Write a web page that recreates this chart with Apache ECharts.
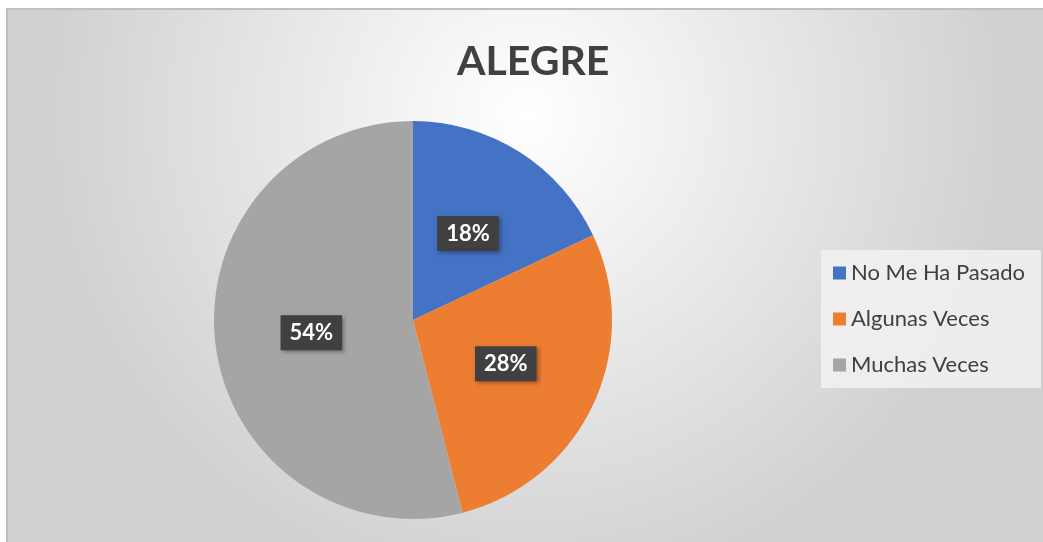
<!DOCTYPE html>
<html>
<head>
<meta charset="utf-8">
<script src="https://cdn.jsdelivr.net/npm/echarts@6/dist/echarts.min.js"></script>
<style>
  html, body { margin: 0; padding: 0; background: #fff; }
  #chart { width: 1043px; height: 542px; }
</style>
</head>
<body>
<div id="chart"></div>
<script>
const categories = ['No Me Ha Pasado', 'Algunas Veces', 'Muchas Veces'];
const values = [18, 28, 54];
const colors = ['#4472C4', '#ED7D31', '#A5A5A5'];

const myChart = echarts.init(document.getElementById('chart'));

let pieData = values.map((value, index) => ({
  value: value,
  name: categories[index],
  itemStyle: { color: colors[index] }
}));

const option = {
  backgroundColor: '#fff',
  animation: false,
  graphic: [
    {
      type: 'rect',
      z: -10,
      shape: { x: 7, y: 9, width: 1040, height: 540 },
      style: {
        fill: {
          type: 'radial', x: 0.5, y: 0.2, r: 0.9,
          colorStops: [
            { offset: 0, color: '#ffffff' },
            { offset: 1, color: '#d0d0d0' }
          ]
        },
        stroke: '#bfbfbf',
        lineWidth: 2
      }
    }
  ],
  title: {
    text: 'ALEGRE',
    left: 452,
    top: 36,
    textStyle: {
      fontFamily: 'Lato',
      fontWeight: 'bold',
      fontSize: 41,
      color: '#404040'
    }
  },
  legend: {
    orient: 'vertical',
    left: 821,
    top: 250,
    padding: [12, 16, 12, 12],
    itemGap: 24,
    itemWidth: 13,
    itemHeight: 13,
    icon: 'rect',
    backgroundColor: 'rgba(242,242,242,0.85)',
    textStyle: {
      fontFamily: 'Lato',
      fontSize: 22,
      color: '#404040',
      padding: [0, 0, 0, 0]
    },
    data: categories
  },
  series: [
    {
      type: 'pie',
      center: [413, 320],
      radius: ['0%', 199],
      startAngle: 90,
      clockwise: true,
      data: pieData,
      label: {
        show: true,
        position: 'inside',
        formatter: '{d}%',
        fontFamily: 'Lato',
        fontWeight: 'bold',
        fontSize: 22,
        color: '#ffffff',
        backgroundColor: '#404040',
        padding: [7, 9, 6, 9],
        shadowColor: 'rgba(0,0,0,0.35)',
        shadowBlur: 4,
        shadowOffsetX: 2,
        shadowOffsetY: 2
      },
      labelLine: { show: false },
      itemStyle: { borderWidth: 0 }
    }
  ]
};

myChart.setOption(option);
</script>
</body>
</html>
